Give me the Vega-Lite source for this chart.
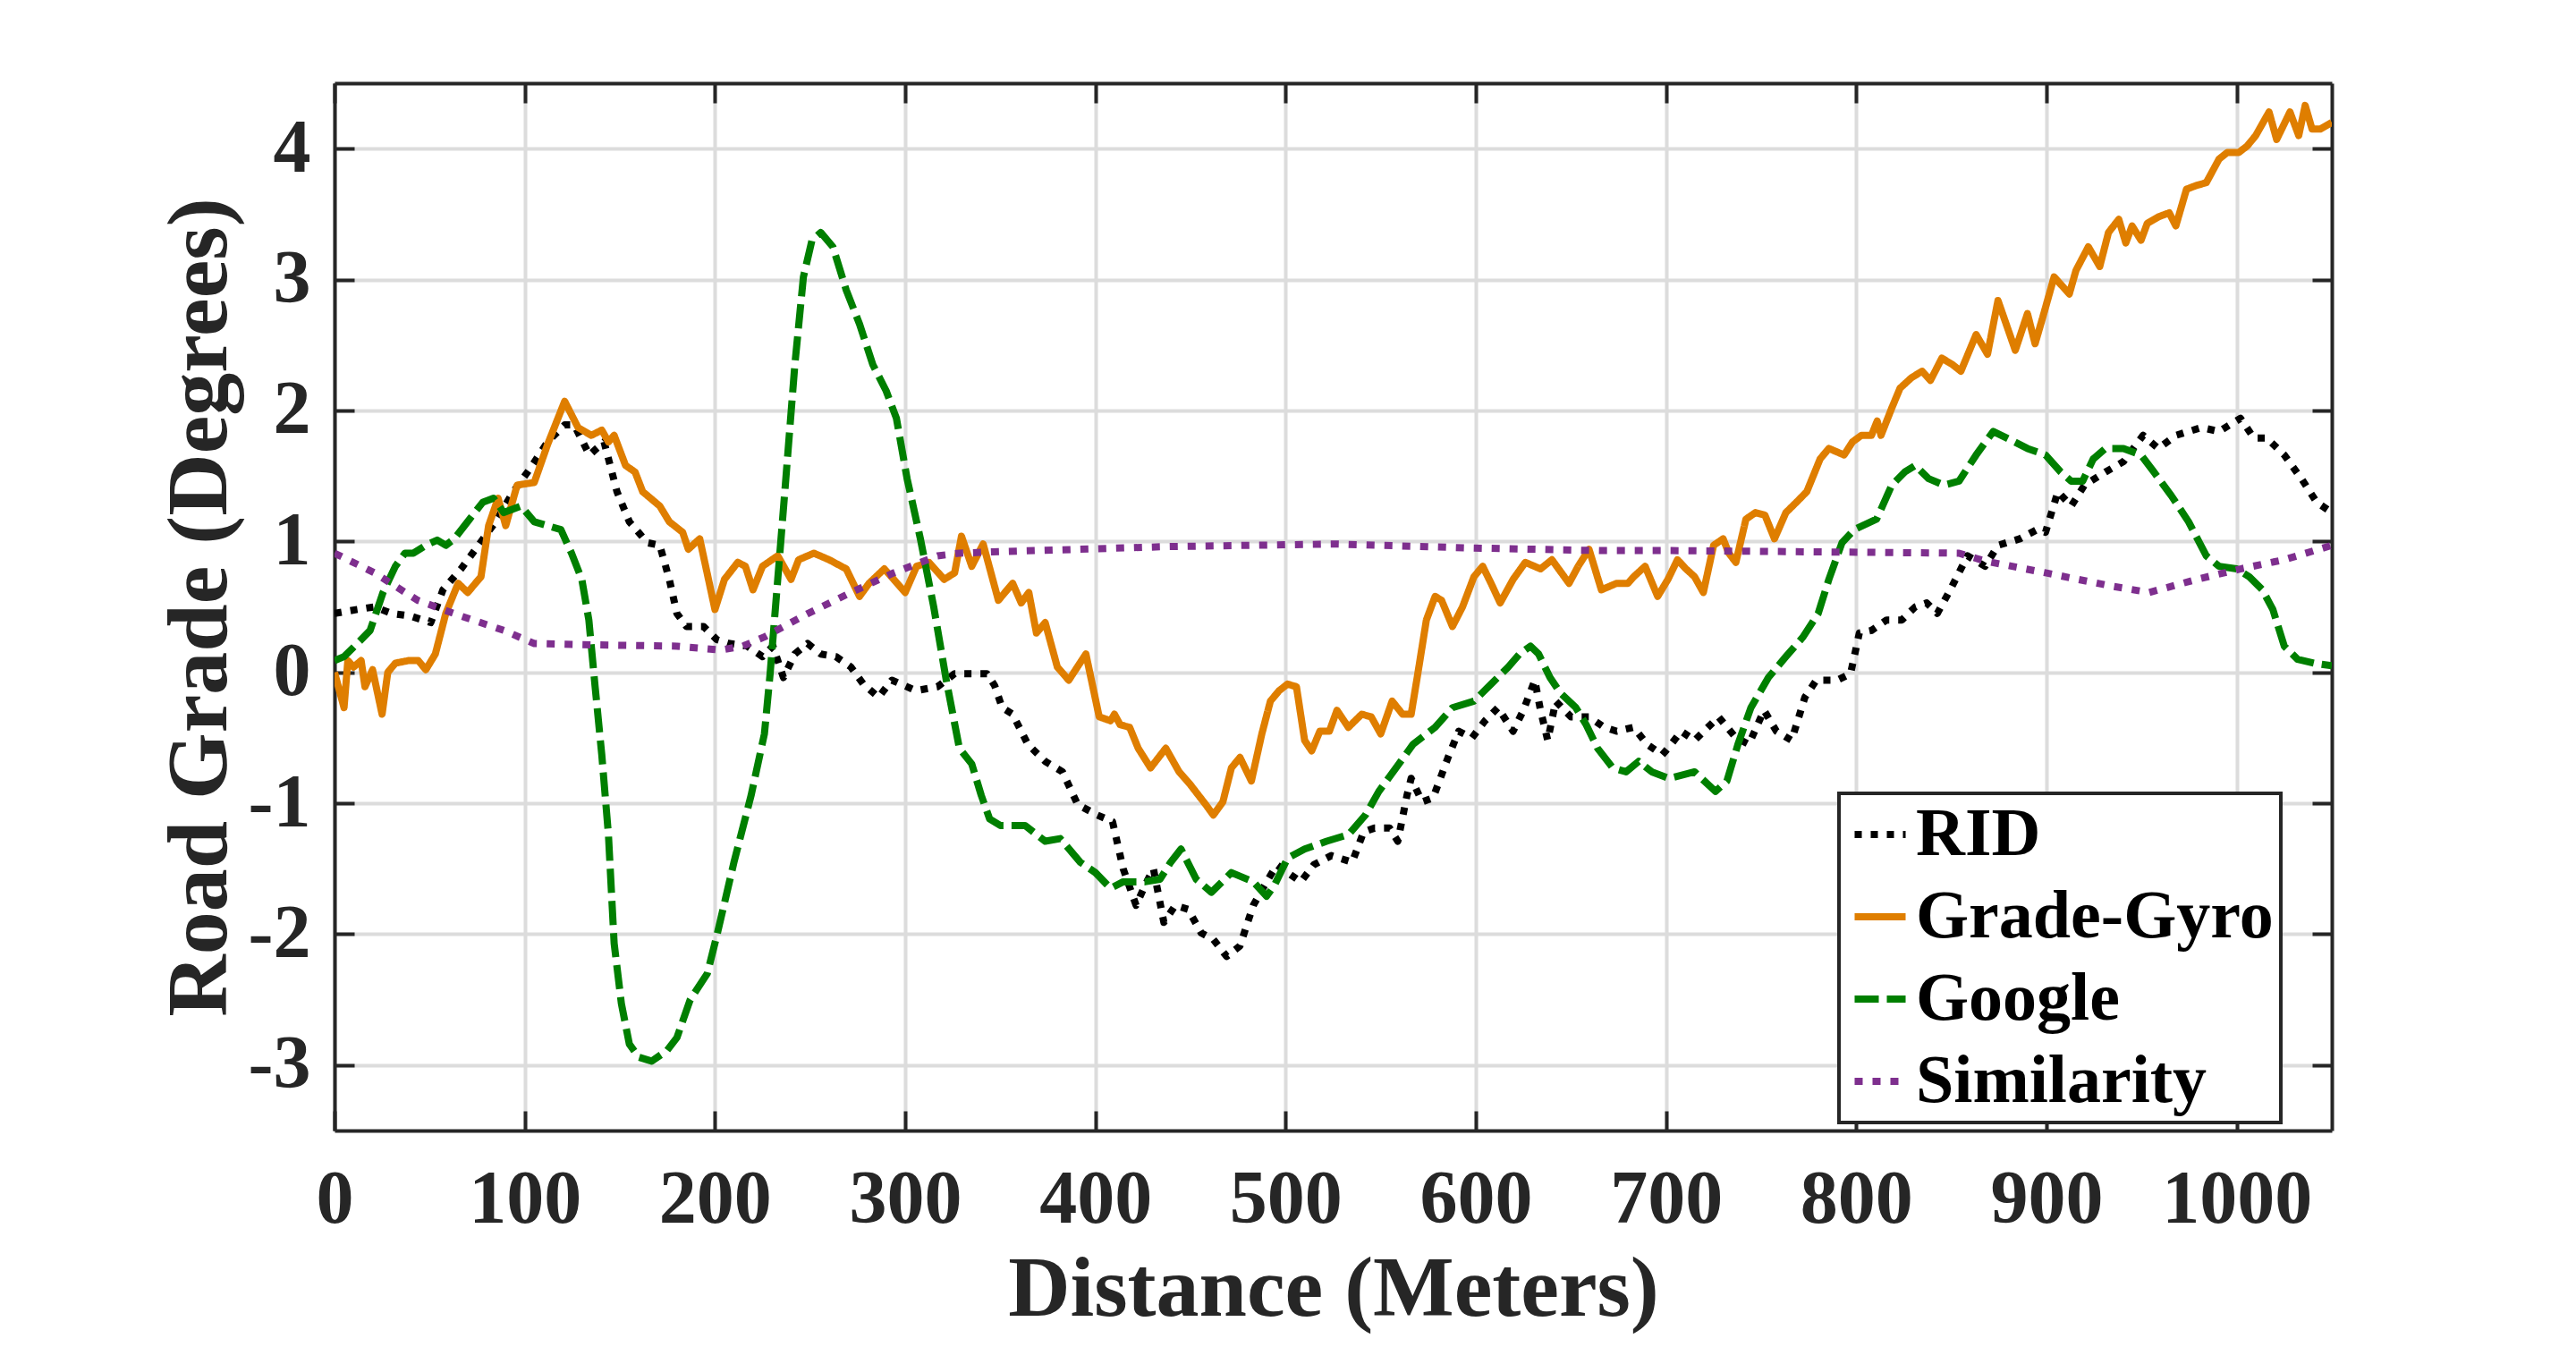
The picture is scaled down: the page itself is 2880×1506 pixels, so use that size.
{
  "$schema": "https://vega.github.io/schema/vega-lite/v6.json",
  "width": 2233,
  "height": 1171,
  "autosize": {"type": "none"},
  "padding": {"left": 374, "top": 93, "right": 273, "bottom": 242},
  "background": "white",
  "datasets": {
    "grades": [
      {"series": "RID", "distance": 0, "grade": 0.45}, {"series": "RID", "distance": 12, "grade": 0.48}, {"series": "RID", "distance": 21, "grade": 0.5}, {"series": "RID", "distance": 30, "grade": 0.45}, {"series": "RID", "distance": 40, "grade": 0.43}, {"series": "RID", "distance": 50.6, "grade": 0.38}, {"series": "RID", "distance": 57, "grade": 0.63}, {"series": "RID", "distance": 66.5, "grade": 0.79}, {"series": "RID", "distance": 75.6, "grade": 0.97}, {"series": "RID", "distance": 84.7, "grade": 1.15}, {"series": "RID", "distance": 94, "grade": 1.38}, {"series": "RID", "distance": 103, "grade": 1.56}, {"series": "RID", "distance": 112, "grade": 1.76}, {"series": "RID", "distance": 121, "grade": 1.89}, {"series": "RID", "distance": 126, "grade": 1.89}, {"series": "RID", "distance": 134, "grade": 1.66}, {"series": "RID", "distance": 141.7, "grade": 1.76}, {"series": "RID", "distance": 148.5, "grade": 1.38}, {"series": "RID", "distance": 155, "grade": 1.15}, {"series": "RID", "distance": 164.5, "grade": 0.99}, {"series": "RID", "distance": 171, "grade": 0.97}, {"series": "RID", "distance": 176, "grade": 0.71}, {"series": "RID", "distance": 180, "grade": 0.45}, {"series": "RID", "distance": 185, "grade": 0.35}, {"series": "RID", "distance": 194, "grade": 0.35}, {"series": "RID", "distance": 201, "grade": 0.25}, {"series": "RID", "distance": 207.7, "grade": 0.22}, {"series": "RID", "distance": 217, "grade": 0.2}, {"series": "RID", "distance": 225, "grade": 0.12}, {"series": "RID", "distance": 230.5, "grade": 0.2}, {"series": "RID", "distance": 236, "grade": -0.04}, {"series": "RID", "distance": 242, "grade": 0.14}, {"series": "RID", "distance": 248.7, "grade": 0.22}, {"series": "RID", "distance": 255.6, "grade": 0.14}, {"series": "RID", "distance": 263.6, "grade": 0.12}, {"series": "RID", "distance": 271.5, "grade": 0.04}, {"series": "RID", "distance": 278, "grade": -0.09}, {"series": "RID", "distance": 286, "grade": -0.19}, {"series": "RID", "distance": 293, "grade": -0.06}, {"series": "RID", "distance": 305.7, "grade": -0.14}, {"series": "RID", "distance": 317, "grade": -0.11}, {"series": "RID", "distance": 326, "grade": -0.01}, {"series": "RID", "distance": 333, "grade": -0.01}, {"series": "RID", "distance": 343, "grade": -0.01}, {"series": "RID", "distance": 347, "grade": -0.1}, {"series": "RID", "distance": 351, "grade": -0.27}, {"series": "RID", "distance": 356.5, "grade": -0.32}, {"series": "RID", "distance": 364.5, "grade": -0.55}, {"series": "RID", "distance": 373.6, "grade": -0.68}, {"series": "RID", "distance": 382.7, "grade": -0.76}, {"series": "RID", "distance": 390.7, "grade": -1.01}, {"series": "RID", "distance": 401, "grade": -1.09}, {"series": "RID", "distance": 409, "grade": -1.14}, {"series": "RID", "distance": 414.6, "grade": -1.5}, {"series": "RID", "distance": 421.4, "grade": -1.78}, {"series": "RID", "distance": 426, "grade": -1.63}, {"series": "RID", "distance": 430.5, "grade": -1.5}, {"series": "RID", "distance": 436, "grade": -1.91}, {"series": "RID", "distance": 442, "grade": -1.78}, {"series": "RID", "distance": 448.7, "grade": -1.81}, {"series": "RID", "distance": 455.6, "grade": -1.99}, {"series": "RID", "distance": 462, "grade": -2.04}, {"series": "RID", "distance": 469, "grade": -2.17}, {"series": "RID", "distance": 476, "grade": -2.09}, {"series": "RID", "distance": 483, "grade": -1.78}, {"series": "RID", "distance": 490, "grade": -1.6}, {"series": "RID", "distance": 495.4, "grade": -1.47}, {"series": "RID", "distance": 501, "grade": -1.53}, {"series": "RID", "distance": 508, "grade": -1.6}, {"series": "RID", "distance": 514.8, "grade": -1.47}, {"series": "RID", "distance": 524, "grade": -1.4}, {"series": "RID", "distance": 535, "grade": -1.45}, {"series": "RID", "distance": 541, "grade": -1.22}, {"series": "RID", "distance": 546.7, "grade": -1.19}, {"series": "RID", "distance": 554.7, "grade": -1.19}, {"series": "RID", "distance": 559, "grade": -1.29}, {"series": "RID", "distance": 563.8, "grade": -0.94}, {"series": "RID", "distance": 566, "grade": -0.81}, {"series": "RID", "distance": 571.8, "grade": -0.99}, {"series": "RID", "distance": 577.5, "grade": -0.96}, {"series": "RID", "distance": 585.4, "grade": -0.65}, {"series": "RID", "distance": 591, "grade": -0.45}, {"series": "RID", "distance": 598, "grade": -0.5}, {"series": "RID", "distance": 604.8, "grade": -0.37}, {"series": "RID", "distance": 611.6, "grade": -0.27}, {"series": "RID", "distance": 619.6, "grade": -0.45}, {"series": "RID", "distance": 625, "grade": -0.29}, {"series": "RID", "distance": 631, "grade": -0.06}, {"series": "RID", "distance": 634, "grade": -0.29}, {"series": "RID", "distance": 637.8, "grade": -0.52}, {"series": "RID", "distance": 642, "grade": -0.22}, {"series": "RID", "distance": 650, "grade": -0.34}, {"series": "RID", "distance": 659.5, "grade": -0.34}, {"series": "RID", "distance": 667.5, "grade": -0.42}, {"series": "RID", "distance": 674, "grade": -0.45}, {"series": "RID", "distance": 683, "grade": -0.42}, {"series": "RID", "distance": 690, "grade": -0.55}, {"series": "RID", "distance": 698, "grade": -0.63}, {"series": "RID", "distance": 701, "grade": -0.58}, {"series": "RID", "distance": 708, "grade": -0.45}, {"series": "RID", "distance": 715, "grade": -0.52}, {"series": "RID", "distance": 727.6, "grade": -0.34}, {"series": "RID", "distance": 736.7, "grade": -0.5}, {"series": "RID", "distance": 743.5, "grade": -0.55}, {"series": "RID", "distance": 751.5, "grade": -0.29}, {"series": "RID", "distance": 758, "grade": -0.45}, {"series": "RID", "distance": 766, "grade": -0.52}, {"series": "RID", "distance": 773, "grade": -0.19}, {"series": "RID", "distance": 779, "grade": -0.06}, {"series": "RID", "distance": 790, "grade": -0.06}, {"series": "RID", "distance": 797, "grade": -0.01}, {"series": "RID", "distance": 801.6, "grade": 0.3}, {"series": "RID", "distance": 808, "grade": 0.32}, {"series": "RID", "distance": 816, "grade": 0.4}, {"series": "RID", "distance": 824, "grade": 0.4}, {"series": "RID", "distance": 831, "grade": 0.5}, {"series": "RID", "distance": 837, "grade": 0.53}, {"series": "RID", "distance": 842.6, "grade": 0.45}, {"series": "RID", "distance": 849.4, "grade": 0.63}, {"series": "RID", "distance": 858.5, "grade": 0.89}, {"series": "RID", "distance": 867.7, "grade": 0.81}, {"series": "RID", "distance": 874.5, "grade": 0.97}, {"series": "RID", "distance": 886, "grade": 1.02}, {"series": "RID", "distance": 895, "grade": 1.09}, {"series": "RID", "distance": 899.5, "grade": 1.07}, {"series": "RID", "distance": 906, "grade": 1.38}, {"series": "RID", "distance": 913, "grade": 1.27}, {"series": "RID", "distance": 920, "grade": 1.43}, {"series": "RID", "distance": 931, "grade": 1.53}, {"series": "RID", "distance": 940.5, "grade": 1.61}, {"series": "RID", "distance": 950.8, "grade": 1.81}, {"series": "RID", "distance": 958.8, "grade": 1.71}, {"series": "RID", "distance": 968, "grade": 1.81}, {"series": "RID", "distance": 981.5, "grade": 1.87}, {"series": "RID", "distance": 990.7, "grade": 1.84}, {"series": "RID", "distance": 1002, "grade": 1.94}, {"series": "RID", "distance": 1009, "grade": 1.79}, {"series": "RID", "distance": 1015.7, "grade": 1.79}, {"series": "RID", "distance": 1025, "grade": 1.66}, {"series": "RID", "distance": 1034, "grade": 1.48}, {"series": "RID", "distance": 1042, "grade": 1.3}, {"series": "RID", "distance": 1050, "grade": 1.22},

      {"series": "Grade-Gyro", "distance": 0, "grade": 0}, {"series": "Grade-Gyro", "distance": 5, "grade": -0.27}, {"series": "Grade-Gyro", "distance": 7, "grade": 0.09}, {"series": "Grade-Gyro", "distance": 10, "grade": 0.04}, {"series": "Grade-Gyro", "distance": 14, "grade": 0.09}, {"series": "Grade-Gyro", "distance": 16, "grade": -0.11}, {"series": "Grade-Gyro", "distance": 20, "grade": 0.02}, {"series": "Grade-Gyro", "distance": 25, "grade": -0.32}, {"series": "Grade-Gyro", "distance": 28, "grade": 0}, {"series": "Grade-Gyro", "distance": 32, "grade": 0.07}, {"series": "Grade-Gyro", "distance": 39, "grade": 0.09}, {"series": "Grade-Gyro", "distance": 44, "grade": 0.09}, {"series": "Grade-Gyro", "distance": 48, "grade": 0.02}, {"series": "Grade-Gyro", "distance": 53, "grade": 0.14}, {"series": "Grade-Gyro", "distance": 58.5, "grade": 0.45}, {"series": "Grade-Gyro", "distance": 65, "grade": 0.68}, {"series": "Grade-Gyro", "distance": 70, "grade": 0.61}, {"series": "Grade-Gyro", "distance": 77, "grade": 0.73}, {"series": "Grade-Gyro", "distance": 81, "grade": 1.12}, {"series": "Grade-Gyro", "distance": 86, "grade": 1.33}, {"series": "Grade-Gyro", "distance": 90, "grade": 1.12}, {"series": "Grade-Gyro", "distance": 96, "grade": 1.43}, {"series": "Grade-Gyro", "distance": 105, "grade": 1.45}, {"series": "Grade-Gyro", "distance": 112, "grade": 1.74}, {"series": "Grade-Gyro", "distance": 121, "grade": 2.07}, {"series": "Grade-Gyro", "distance": 128, "grade": 1.87}, {"series": "Grade-Gyro", "distance": 135, "grade": 1.81}, {"series": "Grade-Gyro", "distance": 140.5, "grade": 1.85}, {"series": "Grade-Gyro", "distance": 144, "grade": 1.76}, {"series": "Grade-Gyro", "distance": 147, "grade": 1.81}, {"series": "Grade-Gyro", "distance": 153, "grade": 1.58}, {"series": "Grade-Gyro", "distance": 158, "grade": 1.53}, {"series": "Grade-Gyro", "distance": 162, "grade": 1.38}, {"series": "Grade-Gyro", "distance": 171, "grade": 1.27}, {"series": "Grade-Gyro", "distance": 176, "grade": 1.15}, {"series": "Grade-Gyro", "distance": 183, "grade": 1.07}, {"series": "Grade-Gyro", "distance": 186, "grade": 0.94}, {"series": "Grade-Gyro", "distance": 192, "grade": 1.02}, {"series": "Grade-Gyro", "distance": 200, "grade": 0.48}, {"series": "Grade-Gyro", "distance": 205, "grade": 0.71}, {"series": "Grade-Gyro", "distance": 212, "grade": 0.84}, {"series": "Grade-Gyro", "distance": 216, "grade": 0.81}, {"series": "Grade-Gyro", "distance": 220, "grade": 0.63}, {"series": "Grade-Gyro", "distance": 225, "grade": 0.81}, {"series": "Grade-Gyro", "distance": 233, "grade": 0.89}, {"series": "Grade-Gyro", "distance": 240, "grade": 0.71}, {"series": "Grade-Gyro", "distance": 244, "grade": 0.86}, {"series": "Grade-Gyro", "distance": 252, "grade": 0.91}, {"series": "Grade-Gyro", "distance": 260, "grade": 0.86}, {"series": "Grade-Gyro", "distance": 269, "grade": 0.79}, {"series": "Grade-Gyro", "distance": 276, "grade": 0.58}, {"series": "Grade-Gyro", "distance": 281, "grade": 0.68}, {"series": "Grade-Gyro", "distance": 289, "grade": 0.79}, {"series": "Grade-Gyro", "distance": 294, "grade": 0.71}, {"series": "Grade-Gyro", "distance": 300, "grade": 0.61}, {"series": "Grade-Gyro", "distance": 306, "grade": 0.81}, {"series": "Grade-Gyro", "distance": 312.5, "grade": 0.84}, {"series": "Grade-Gyro", "distance": 320.5, "grade": 0.71}, {"series": "Grade-Gyro", "distance": 326, "grade": 0.76}, {"series": "Grade-Gyro", "distance": 329.6, "grade": 1.04}, {"series": "Grade-Gyro", "distance": 335, "grade": 0.81}, {"series": "Grade-Gyro", "distance": 341, "grade": 0.98}, {"series": "Grade-Gyro", "distance": 349, "grade": 0.55}, {"series": "Grade-Gyro", "distance": 356.5, "grade": 0.68}, {"series": "Grade-Gyro", "distance": 361, "grade": 0.53}, {"series": "Grade-Gyro", "distance": 365, "grade": 0.61}, {"series": "Grade-Gyro", "distance": 369, "grade": 0.3}, {"series": "Grade-Gyro", "distance": 373.6, "grade": 0.38}, {"series": "Grade-Gyro", "distance": 380, "grade": 0.04}, {"series": "Grade-Gyro", "distance": 386, "grade": -0.06}, {"series": "Grade-Gyro", "distance": 395, "grade": 0.14}, {"series": "Grade-Gyro", "distance": 402, "grade": -0.34}, {"series": "Grade-Gyro", "distance": 408, "grade": -0.37}, {"series": "Grade-Gyro", "distance": 410, "grade": -0.32}, {"series": "Grade-Gyro", "distance": 413, "grade": -0.4}, {"series": "Grade-Gyro", "distance": 418, "grade": -0.42}, {"series": "Grade-Gyro", "distance": 422.5, "grade": -0.58}, {"series": "Grade-Gyro", "distance": 429, "grade": -0.73}, {"series": "Grade-Gyro", "distance": 437, "grade": -0.58}, {"series": "Grade-Gyro", "distance": 444, "grade": -0.76}, {"series": "Grade-Gyro", "distance": 450, "grade": -0.86}, {"series": "Grade-Gyro", "distance": 458, "grade": -1.01}, {"series": "Grade-Gyro", "distance": 462, "grade": -1.09}, {"series": "Grade-Gyro", "distance": 467, "grade": -0.99}, {"series": "Grade-Gyro", "distance": 471.5, "grade": -0.73}, {"series": "Grade-Gyro", "distance": 476, "grade": -0.65}, {"series": "Grade-Gyro", "distance": 482, "grade": -0.83}, {"series": "Grade-Gyro", "distance": 487.5, "grade": -0.47}, {"series": "Grade-Gyro", "distance": 492, "grade": -0.22}, {"series": "Grade-Gyro", "distance": 496.6, "grade": -0.14}, {"series": "Grade-Gyro", "distance": 501, "grade": -0.09}, {"series": "Grade-Gyro", "distance": 505.7, "grade": -0.11}, {"series": "Grade-Gyro", "distance": 510, "grade": -0.52}, {"series": "Grade-Gyro", "distance": 513.7, "grade": -0.6}, {"series": "Grade-Gyro", "distance": 518, "grade": -0.45}, {"series": "Grade-Gyro", "distance": 523, "grade": -0.45}, {"series": "Grade-Gyro", "distance": 527, "grade": -0.29}, {"series": "Grade-Gyro", "distance": 533, "grade": -0.42}, {"series": "Grade-Gyro", "distance": 540, "grade": -0.32}, {"series": "Grade-Gyro", "distance": 545, "grade": -0.34}, {"series": "Grade-Gyro", "distance": 550, "grade": -0.47}, {"series": "Grade-Gyro", "distance": 556, "grade": -0.22}, {"series": "Grade-Gyro", "distance": 561.5, "grade": -0.32}, {"series": "Grade-Gyro", "distance": 566, "grade": -0.32}, {"series": "Grade-Gyro", "distance": 569.5, "grade": -0.01}, {"series": "Grade-Gyro", "distance": 574, "grade": 0.4}, {"series": "Grade-Gyro", "distance": 578.6, "grade": 0.58}, {"series": "Grade-Gyro", "distance": 582, "grade": 0.55}, {"series": "Grade-Gyro", "distance": 587.7, "grade": 0.35}, {"series": "Grade-Gyro", "distance": 593, "grade": 0.5}, {"series": "Grade-Gyro", "distance": 599, "grade": 0.73}, {"series": "Grade-Gyro", "distance": 603.6, "grade": 0.81}, {"series": "Grade-Gyro", "distance": 608, "grade": 0.68}, {"series": "Grade-Gyro", "distance": 612.8, "grade": 0.53}, {"series": "Grade-Gyro", "distance": 619.6, "grade": 0.71}, {"series": "Grade-Gyro", "distance": 626, "grade": 0.84}, {"series": "Grade-Gyro", "distance": 634, "grade": 0.79}, {"series": "Grade-Gyro", "distance": 640, "grade": 0.86}, {"series": "Grade-Gyro", "distance": 649, "grade": 0.68}, {"series": "Grade-Gyro", "distance": 653.8, "grade": 0.81}, {"series": "Grade-Gyro", "distance": 659.5, "grade": 0.94}, {"series": "Grade-Gyro", "distance": 666, "grade": 0.63}, {"series": "Grade-Gyro", "distance": 674, "grade": 0.68}, {"series": "Grade-Gyro", "distance": 680, "grade": 0.68}, {"series": "Grade-Gyro", "distance": 683, "grade": 0.73}, {"series": "Grade-Gyro", "distance": 689, "grade": 0.81}, {"series": "Grade-Gyro", "distance": 695.6, "grade": 0.58}, {"series": "Grade-Gyro", "distance": 701, "grade": 0.71}, {"series": "Grade-Gyro", "distance": 706, "grade": 0.86}, {"series": "Grade-Gyro", "distance": 710.5, "grade": 0.79}, {"series": "Grade-Gyro", "distance": 715, "grade": 0.73}, {"series": "Grade-Gyro", "distance": 719.6, "grade": 0.61}, {"series": "Grade-Gyro", "distance": 725, "grade": 0.97}, {"series": "Grade-Gyro", "distance": 730, "grade": 1.02}, {"series": "Grade-Gyro", "distance": 733, "grade": 0.91}, {"series": "Grade-Gyro", "distance": 736.7, "grade": 0.84}, {"series": "Grade-Gyro", "distance": 742, "grade": 1.17}, {"series": "Grade-Gyro", "distance": 747, "grade": 1.22}, {"series": "Grade-Gyro", "distance": 752, "grade": 1.2}, {"series": "Grade-Gyro", "distance": 757, "grade": 1.02}, {"series": "Grade-Gyro", "distance": 763, "grade": 1.22}, {"series": "Grade-Gyro", "distance": 768.6, "grade": 1.3}, {"series": "Grade-Gyro", "distance": 774, "grade": 1.38}, {"series": "Grade-Gyro", "distance": 781, "grade": 1.63}, {"series": "Grade-Gyro", "distance": 785.6, "grade": 1.71}, {"series": "Grade-Gyro", "distance": 793.6, "grade": 1.66}, {"series": "Grade-Gyro", "distance": 798, "grade": 1.76}, {"series": "Grade-Gyro", "distance": 802.7, "grade": 1.81}, {"series": "Grade-Gyro", "distance": 808, "grade": 1.81}, {"series": "Grade-Gyro", "distance": 811, "grade": 1.92}, {"series": "Grade-Gyro", "distance": 813, "grade": 1.81}, {"series": "Grade-Gyro", "distance": 818.7, "grade": 2.02}, {"series": "Grade-Gyro", "distance": 823, "grade": 2.17}, {"series": "Grade-Gyro", "distance": 829, "grade": 2.25}, {"series": "Grade-Gyro", "distance": 834.6, "grade": 2.3}, {"series": "Grade-Gyro", "distance": 839, "grade": 2.23}, {"series": "Grade-Gyro", "distance": 845, "grade": 2.4}, {"series": "Grade-Gyro", "distance": 850.6, "grade": 2.35}, {"series": "Grade-Gyro", "distance": 855, "grade": 2.3}, {"series": "Grade-Gyro", "distance": 863, "grade": 2.58}, {"series": "Grade-Gyro", "distance": 869, "grade": 2.43}, {"series": "Grade-Gyro", "distance": 874.5, "grade": 2.84}, {"series": "Grade-Gyro", "distance": 883.6, "grade": 2.46}, {"series": "Grade-Gyro", "distance": 890, "grade": 2.74}, {"series": "Grade-Gyro", "distance": 894, "grade": 2.51}, {"series": "Grade-Gyro", "distance": 898, "grade": 2.71}, {"series": "Grade-Gyro", "distance": 904, "grade": 3.02}, {"series": "Grade-Gyro", "distance": 912, "grade": 2.89}, {"series": "Grade-Gyro", "distance": 915.5, "grade": 3.07}, {"series": "Grade-Gyro", "distance": 922, "grade": 3.25}, {"series": "Grade-Gyro", "distance": 928, "grade": 3.1}, {"series": "Grade-Gyro", "distance": 932.6, "grade": 3.36}, {"series": "Grade-Gyro", "distance": 938, "grade": 3.46}, {"series": "Grade-Gyro", "distance": 941.7, "grade": 3.28}, {"series": "Grade-Gyro", "distance": 945, "grade": 3.41}, {"series": "Grade-Gyro", "distance": 949.7, "grade": 3.3}, {"series": "Grade-Gyro", "distance": 953, "grade": 3.43}, {"series": "Grade-Gyro", "distance": 959, "grade": 3.48}, {"series": "Grade-Gyro", "distance": 964.5, "grade": 3.51}, {"series": "Grade-Gyro", "distance": 968, "grade": 3.41}, {"series": "Grade-Gyro", "distance": 973.6, "grade": 3.69}, {"series": "Grade-Gyro", "distance": 979, "grade": 3.72}, {"series": "Grade-Gyro", "distance": 984, "grade": 3.74}, {"series": "Grade-Gyro", "distance": 990.7, "grade": 3.92}, {"series": "Grade-Gyro", "distance": 995, "grade": 3.97}, {"series": "Grade-Gyro", "distance": 1001, "grade": 3.97}, {"series": "Grade-Gyro", "distance": 1005.5, "grade": 4.02}, {"series": "Grade-Gyro", "distance": 1010, "grade": 4.1}, {"series": "Grade-Gyro", "distance": 1017, "grade": 4.28}, {"series": "Grade-Gyro", "distance": 1021, "grade": 4.07}, {"series": "Grade-Gyro", "distance": 1028, "grade": 4.28}, {"series": "Grade-Gyro", "distance": 1032.6, "grade": 4.1}, {"series": "Grade-Gyro", "distance": 1036, "grade": 4.33}, {"series": "Grade-Gyro", "distance": 1039.6, "grade": 4.15}, {"series": "Grade-Gyro", "distance": 1044, "grade": 4.15}, {"series": "Grade-Gyro", "distance": 1050, "grade": 4.2},

      {"series": "Google", "distance": 0, "grade": 0.09}, {"series": "Google", "distance": 5, "grade": 0.12}, {"series": "Google", "distance": 12, "grade": 0.22}, {"series": "Google", "distance": 18.7, "grade": 0.32}, {"series": "Google", "distance": 25.5, "grade": 0.61}, {"series": "Google", "distance": 32, "grade": 0.81}, {"series": "Google", "distance": 37, "grade": 0.91}, {"series": "Google", "distance": 41.5, "grade": 0.91}, {"series": "Google", "distance": 48, "grade": 0.97}, {"series": "Google", "distance": 54, "grade": 1.01}, {"series": "Google", "distance": 58.5, "grade": 0.97}, {"series": "Google", "distance": 63, "grade": 1.02}, {"series": "Google", "distance": 71, "grade": 1.17}, {"series": "Google", "distance": 78, "grade": 1.3}, {"series": "Google", "distance": 83.6, "grade": 1.33}, {"series": "Google", "distance": 89, "grade": 1.22}, {"series": "Google", "distance": 98, "grade": 1.27}, {"series": "Google", "distance": 105, "grade": 1.15}, {"series": "Google", "distance": 112, "grade": 1.12}, {"series": "Google", "distance": 119, "grade": 1.09}, {"series": "Google", "distance": 124.6, "grade": 0.91}, {"series": "Google", "distance": 130, "grade": 0.71}, {"series": "Google", "distance": 133.7, "grade": 0.4}, {"series": "Google", "distance": 137, "grade": -0.11}, {"series": "Google", "distance": 140.5, "grade": -0.63}, {"series": "Google", "distance": 144, "grade": -1.24}, {"series": "Google", "distance": 147, "grade": -2.07}, {"series": "Google", "distance": 150.8, "grade": -2.53}, {"series": "Google", "distance": 155, "grade": -2.84}, {"series": "Google", "distance": 160, "grade": -2.94}, {"series": "Google", "distance": 166.7, "grade": -2.97}, {"series": "Google", "distance": 174.7, "grade": -2.89}, {"series": "Google", "distance": 180, "grade": -2.79}, {"series": "Google", "distance": 187, "grade": -2.5}, {"series": "Google", "distance": 196, "grade": -2.3}, {"series": "Google", "distance": 201, "grade": -2.01}, {"series": "Google", "distance": 210, "grade": -1.45}, {"series": "Google", "distance": 219, "grade": -0.94}, {"series": "Google", "distance": 226, "grade": -0.47}, {"series": "Google", "distance": 229, "grade": -0.01}, {"series": "Google", "distance": 233, "grade": 0.71}, {"series": "Google", "distance": 237, "grade": 1.43}, {"series": "Google", "distance": 242, "grade": 2.35}, {"series": "Google", "distance": 246.5, "grade": 3.02}, {"series": "Google", "distance": 251, "grade": 3.3}, {"series": "Google", "distance": 255.6, "grade": 3.36}, {"series": "Google", "distance": 262, "grade": 3.25}, {"series": "Google", "distance": 269, "grade": 2.92}, {"series": "Google", "distance": 276, "grade": 2.66}, {"series": "Google", "distance": 283, "grade": 2.35}, {"series": "Google", "distance": 290, "grade": 2.15}, {"series": "Google", "distance": 295.4, "grade": 1.94}, {"series": "Google", "distance": 301, "grade": 1.48}, {"series": "Google", "distance": 308, "grade": 1.02}, {"series": "Google", "distance": 315, "grade": 0.5}, {"series": "Google", "distance": 321.6, "grade": -0.06}, {"series": "Google", "distance": 328.5, "grade": -0.58}, {"series": "Google", "distance": 335, "grade": -0.7}, {"series": "Google", "distance": 340, "grade": -0.94}, {"series": "Google", "distance": 344.4, "grade": -1.12}, {"series": "Google", "distance": 350, "grade": -1.17}, {"series": "Google", "distance": 363, "grade": -1.17}, {"series": "Google", "distance": 373.6, "grade": -1.29}, {"series": "Google", "distance": 381.5, "grade": -1.27}, {"series": "Google", "distance": 392, "grade": -1.45}, {"series": "Google", "distance": 400, "grade": -1.53}, {"series": "Google", "distance": 408, "grade": -1.65}, {"series": "Google", "distance": 414.6, "grade": -1.6}, {"series": "Google", "distance": 426, "grade": -1.6}, {"series": "Google", "distance": 434, "grade": -1.58}, {"series": "Google", "distance": 439.6, "grade": -1.45}, {"series": "Google", "distance": 445, "grade": -1.35}, {"series": "Google", "distance": 453, "grade": -1.58}, {"series": "Google", "distance": 461, "grade": -1.68}, {"series": "Google", "distance": 471.5, "grade": -1.53}, {"series": "Google", "distance": 483, "grade": -1.6}, {"series": "Google", "distance": 490, "grade": -1.71}, {"series": "Google", "distance": 494, "grade": -1.63}, {"series": "Google", "distance": 501, "grade": -1.42}, {"series": "Google", "distance": 510, "grade": -1.35}, {"series": "Google", "distance": 521.6, "grade": -1.29}, {"series": "Google", "distance": 533, "grade": -1.24}, {"series": "Google", "distance": 542, "grade": -1.09}, {"series": "Google", "distance": 549, "grade": -0.91}, {"series": "Google", "distance": 558, "grade": -0.73}, {"series": "Google", "distance": 567, "grade": -0.55}, {"series": "Google", "distance": 578.6, "grade": -0.42}, {"series": "Google", "distance": 587.7, "grade": -0.27}, {"series": "Google", "distance": 599, "grade": -0.22}, {"series": "Google", "distance": 608, "grade": -0.09}, {"series": "Google", "distance": 617, "grade": 0.04}, {"series": "Google", "distance": 623, "grade": 0.14}, {"series": "Google", "distance": 628.7, "grade": 0.2}, {"series": "Google", "distance": 633, "grade": 0.14}, {"series": "Google", "distance": 639, "grade": -0.04}, {"series": "Google", "distance": 644.6, "grade": -0.16}, {"series": "Google", "distance": 652.6, "grade": -0.27}, {"series": "Google", "distance": 658, "grade": -0.4}, {"series": "Google", "distance": 664, "grade": -0.58}, {"series": "Google", "distance": 672, "grade": -0.73}, {"series": "Google", "distance": 679, "grade": -0.76}, {"series": "Google", "distance": 685.6, "grade": -0.68}, {"series": "Google", "distance": 692.5, "grade": -0.76}, {"series": "Google", "distance": 701.6, "grade": -0.81}, {"series": "Google", "distance": 715, "grade": -0.76}, {"series": "Google", "distance": 726, "grade": -0.91}, {"series": "Google", "distance": 732, "grade": -0.83}, {"series": "Google", "distance": 737.8, "grade": -0.55}, {"series": "Google", "distance": 744.6, "grade": -0.27}, {"series": "Google", "distance": 753.8, "grade": -0.04}, {"series": "Google", "distance": 763, "grade": 0.12}, {"series": "Google", "distance": 772, "grade": 0.27}, {"series": "Google", "distance": 780, "grade": 0.45}, {"series": "Google", "distance": 785.6, "grade": 0.71}, {"series": "Google", "distance": 792.5, "grade": 0.99}, {"series": "Google", "distance": 799, "grade": 1.09}, {"series": "Google", "distance": 810.7, "grade": 1.17}, {"series": "Google", "distance": 818.7, "grade": 1.43}, {"series": "Google", "distance": 825.5, "grade": 1.53}, {"series": "Google", "distance": 831, "grade": 1.58}, {"series": "Google", "distance": 838, "grade": 1.48}, {"series": "Google", "distance": 846, "grade": 1.43}, {"series": "Google", "distance": 854, "grade": 1.46}, {"series": "Google", "distance": 863, "grade": 1.66}, {"series": "Google", "distance": 872, "grade": 1.84}, {"series": "Google", "distance": 879, "grade": 1.79}, {"series": "Google", "distance": 890, "grade": 1.71}, {"series": "Google", "distance": 899.5, "grade": 1.66}, {"series": "Google", "distance": 907.5, "grade": 1.53}, {"series": "Google", "distance": 913, "grade": 1.46}, {"series": "Google", "distance": 919, "grade": 1.46}, {"series": "Google", "distance": 924.6, "grade": 1.63}, {"series": "Google", "distance": 931, "grade": 1.71}, {"series": "Google", "distance": 940.5, "grade": 1.71}, {"series": "Google", "distance": 949.7, "grade": 1.66}, {"series": "Google", "distance": 956.5, "grade": 1.53}, {"series": "Google", "distance": 965.6, "grade": 1.35}, {"series": "Google", "distance": 974.7, "grade": 1.15}, {"series": "Google", "distance": 984, "grade": 0.89}, {"series": "Google", "distance": 990.7, "grade": 0.81}, {"series": "Google", "distance": 1000, "grade": 0.79}, {"series": "Google", "distance": 1006.6, "grade": 0.73}, {"series": "Google", "distance": 1013.5, "grade": 0.63}, {"series": "Google", "distance": 1019, "grade": 0.48}, {"series": "Google", "distance": 1025, "grade": 0.2}, {"series": "Google", "distance": 1032, "grade": 0.1}, {"series": "Google", "distance": 1040.8, "grade": 0.07}, {"series": "Google", "distance": 1050, "grade": 0.05},

      {"series": "Similarity", "distance": 0, "grade": 0.91}, {"series": "Similarity", "distance": 21, "grade": 0.76}, {"series": "Similarity", "distance": 43.7, "grade": 0.55}, {"series": "Similarity", "distance": 66.5, "grade": 0.43}, {"series": "Similarity", "distance": 89, "grade": 0.32}, {"series": "Similarity", "distance": 105, "grade": 0.22}, {"series": "Similarity", "distance": 135, "grade": 0.21}, {"series": "Similarity", "distance": 180, "grade": 0.2}, {"series": "Similarity", "distance": 203, "grade": 0.17}, {"series": "Similarity", "distance": 214.6, "grade": 0.2}, {"series": "Similarity", "distance": 226, "grade": 0.27}, {"series": "Similarity", "distance": 249, "grade": 0.45}, {"series": "Similarity", "distance": 271.5, "grade": 0.61}, {"series": "Similarity", "distance": 294, "grade": 0.76}, {"series": "Similarity", "distance": 317, "grade": 0.89}, {"series": "Similarity", "distance": 328.5, "grade": 0.91}, {"series": "Similarity", "distance": 346, "grade": 0.92}, {"series": "Similarity", "distance": 437, "grade": 0.96}, {"series": "Similarity", "distance": 526, "grade": 0.98}, {"series": "Similarity", "distance": 597, "grade": 0.95}, {"series": "Similarity", "distance": 665, "grade": 0.93}, {"series": "Similarity", "distance": 703, "grade": 0.93}, {"series": "Similarity", "distance": 780, "grade": 0.92}, {"series": "Similarity", "distance": 854, "grade": 0.91}, {"series": "Similarity", "distance": 867.7, "grade": 0.85}, {"series": "Similarity", "distance": 899.5, "grade": 0.76}, {"series": "Similarity", "distance": 933.7, "grade": 0.66}, {"series": "Similarity", "distance": 954, "grade": 0.61}, {"series": "Similarity", "distance": 979, "grade": 0.71}, {"series": "Similarity", "distance": 1002, "grade": 0.79}, {"series": "Similarity", "distance": 1025, "grade": 0.86}, {"series": "Similarity", "distance": 1050, "grade": 0.97}
    ]
  },
  "data": {"name": "grades"},
  "layer": [
    {
      "mark": {"type": "line", "clip": true, "strokeWidth": 8, "strokeCap": "butt", "strokeJoin": "round"},
      "encoding": {
        "x": {
          "field": "distance",
          "type": "quantitative",
          "scale": {"domain": [0, 1050], "nice": false, "zero": false},
          "axis": {
            "orient": "bottom",
            "values": [0, 100, 200, 300, 400, 500, 600, 700, 800, 900, 1000],
            "format": "d",
            "title": "Distance (Meters)",
            "grid": true,
            "labelPadding": 58,
            "titlePadding": 11
          }
        },
        "y": {
          "field": "grade",
          "type": "quantitative",
          "scale": {"domain": [-3.5, 4.5], "nice": false, "zero": false},
          "axis": {
            "orient": "left",
            "values": [-3, -2, -1, 0, 1, 2, 3, 4],
            "labelExpr": "datum.value < 0 ? '-' + abs(datum.value) : '' + datum.value",
            "title": "Road Grade (Degrees)",
            "grid": true,
            "labelPadding": 49,
            "titlePadding": 5
          }
        },
        "color": {
          "field": "series",
          "type": "nominal",
          "sort": ["RID", "Grade-Gyro", "Google", "Similarity"],
          "scale": {
            "domain": ["RID", "Grade-Gyro", "Google", "Similarity"],
            "range": ["#000000", "#DF7E00", "#007F00", "#7E2F8E"]
          },
          "legend": {"orient": "none", "legendX": 1682, "legendY": 794, "title": null}
        },
        "strokeDash": {
          "field": "series",
          "type": "nominal",
          "sort": ["RID", "Grade-Gyro", "Google", "Similarity"],
          "scale": {
            "domain": ["RID", "Grade-Gyro", "Google", "Similarity"],
            "range": [[8, 10], [1, 0], [27, 9], [9, 11]]
          },
          "legend": {"orient": "none", "legendX": 1682, "legendY": 794, "title": null}
        }
      }
    },
    {
      "mark": {"type": "line", "opacity": 0},
      "encoding": {
        "x": {
          "field": "distance",
          "type": "quantitative",
          "scale": {"domain": [0, 1050], "nice": false, "zero": false},
          "axis": {
            "orient": "top",
            "values": [0, 100, 200, 300, 400, 500, 600, 700, 800, 900, 1000],
            "labels": false,
            "grid": false,
            "title": null
          }
        },
        "y": {
          "field": "grade",
          "type": "quantitative",
          "scale": {"domain": [-3.5, 4.5], "nice": false, "zero": false},
          "axis": {
            "orient": "right",
            "values": [-3, -2, -1, 0, 1, 2, 3, 4],
            "labels": false,
            "grid": false,
            "title": null
          }
        }
      }
    }
  ],
  "resolve": {"axis": {"x": "independent", "y": "independent"}},
  "config": {
    "view": {"stroke": null},
    "font": "Liberation Serif",
    "axis": {
      "domainColor": "#262626",
      "domainWidth": 4,
      "tickColor": "#262626",
      "tickWidth": 4,
      "tickSize": -22,
      "gridColor": "#dcdcdc",
      "gridWidth": 4,
      "labelFont": "Liberation Serif",
      "labelFontSize": 84,
      "labelFontWeight": "bold",
      "labelColor": "#262626",
      "labelFlush": false,
      "labelOverlap": false,
      "titleFont": "Liberation Serif",
      "titleFontSize": 96,
      "titleFontWeight": "bold",
      "titleColor": "#262626"
    },
    "legend": {
      "fillColor": "white",
      "strokeColor": "#262626",
      "strokeWidth": 4,
      "padding": 8,
      "symbolType": "stroke",
      "symbolSize": 3250,
      "symbolStrokeWidth": 8,
      "labelFont": "Liberation Serif",
      "labelFontSize": 76,
      "labelFontWeight": "bold",
      "labelColor": "#000000",
      "labelLimit": 0,
      "labelOffset": 2,
      "rowPadding": 16
    }
  }
}
